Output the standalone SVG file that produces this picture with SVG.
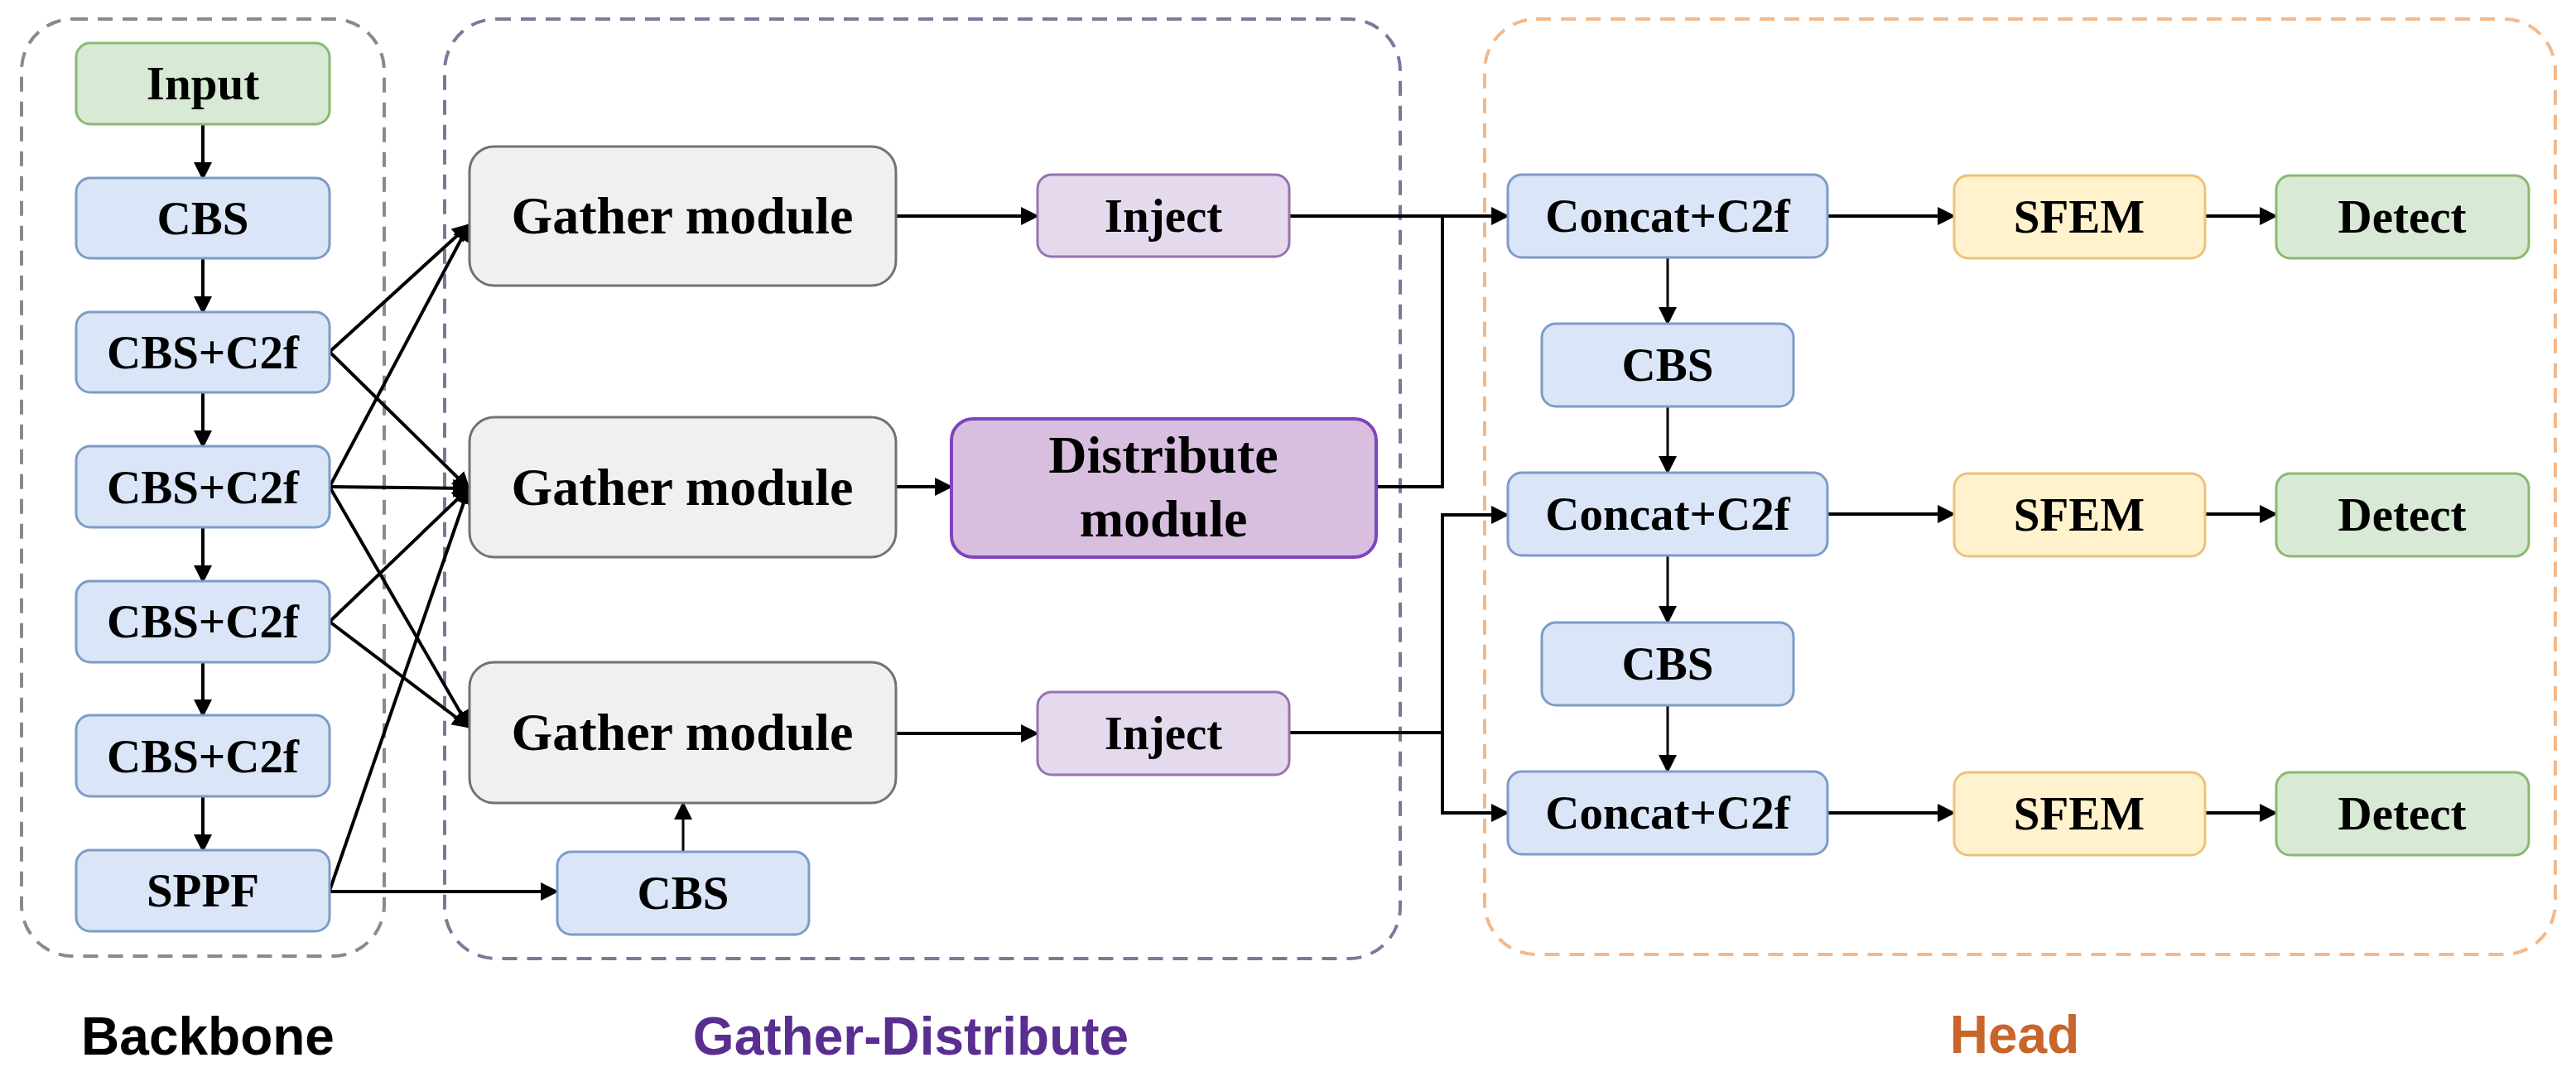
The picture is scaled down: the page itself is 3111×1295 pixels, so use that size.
<svg xmlns="http://www.w3.org/2000/svg" width="3111" height="1295" viewBox="0 0 3111 1295">
<defs>
<marker id="arr" viewBox="0 0 10 10" refX="8.6" refY="5" markerWidth="22" markerHeight="22" markerUnits="userSpaceOnUse" orient="auto"><path d="M0,0 L10,5 L0,10 z" fill="#000"/></marker>
<style>
.grp{fill:none;stroke-width:4;stroke-dasharray:18 12}
.bb{stroke:#8a8a8a}
.gd{stroke:#7d7898}
.hd{stroke:#f4b88a}
.cbs{fill:#dae6f7;stroke:#7c9cc8;stroke-width:3}
.inp{fill:#d8e9d5;stroke:#8bb872;stroke-width:3}
.gat{fill:#f0f0ee;stroke:#727272;stroke-width:3}
.inj{fill:#e5d9ee;stroke:#9673b0;stroke-width:3}
.dis{fill:#d8bfdf;stroke:#8043bf;stroke-width:4}
.sfe{fill:#fff2cc;stroke:#ebc27a;stroke-width:3}
.det{fill:#d8e9d5;stroke:#8bb872;stroke-width:3}
.t{font-family:"Liberation Serif","Times New Roman",serif;font-weight:bold;font-size:57px;text-anchor:middle;fill:#000}
.tl{font-family:"Liberation Serif","Times New Roman",serif;font-weight:bold;font-size:64px;text-anchor:middle;fill:#000}
.lab{font-family:"Liberation Sans",Arial,sans-serif;font-weight:bold;font-size:64px;text-anchor:middle}
.c{fill:none;stroke:#000;stroke-width:4;marker-end:url(#arr)}
.cn{fill:none;stroke:#000;stroke-width:4}
.cv{fill:none;stroke:#000;stroke-width:3;marker-end:url(#arr)}
</style>
</defs>
<g id="groups">
<rect class="grp bb" x="26" y="23" width="438" height="1132" rx="62"/>
<rect class="grp gd" x="537" y="23" width="1154" height="1135" rx="62"/>
<rect class="grp hd" x="1793" y="23" width="1293" height="1130" rx="62"/>
<text class="lab" x="251" y="1274" fill="#000">Backbone</text>
<text class="lab" x="1100" y="1274" fill="#5a2d91">Gather-Distribute</text>
<text class="lab" x="2433" y="1272" fill="#c8652a">Head</text>
</g>
<g id="connectors">
<line class="c" x1="245" y1="150" x2="245" y2="215"/>
<line class="c" x1="245" y1="312" x2="245" y2="377"/>
<line class="c" x1="245" y1="474" x2="245" y2="539"/>
<line class="c" x1="245" y1="637" x2="245" y2="702"/>
<line class="c" x1="245" y1="800" x2="245" y2="864"/>
<line class="c" x1="245" y1="962" x2="245" y2="1027"/>
<line class="c" x1="398" y1="425" x2="566" y2="272"/>
<line class="c" x1="398" y1="425" x2="566" y2="590"/>
<line class="c" x1="398" y1="588" x2="566" y2="272"/>
<line class="c" x1="398" y1="588" x2="566" y2="590"/>
<line class="c" x1="398" y1="588" x2="566" y2="878"/>
<line class="c" x1="398" y1="751" x2="566" y2="590"/>
<line class="c" x1="398" y1="751" x2="566" y2="878"/>
<line class="c" x1="398" y1="1076" x2="566" y2="590"/>
<line class="c" x1="398" y1="1077" x2="672" y2="1077"/>
<line class="cv" x1="825" y1="1029" x2="825" y2="971"/>
<line class="c" x1="1082" y1="261" x2="1252" y2="261"/>
<line class="c" x1="1082" y1="588" x2="1148" y2="588"/>
<line class="c" x1="1082" y1="886" x2="1252" y2="886"/>
<line class="c" x1="1557" y1="261" x2="1820" y2="261"/>
<path class="cn" d="M1662,588 H1742 V261"/>
<path class="c" d="M1557,885 H1742 V622 H1820"/>
<path class="c" d="M1742,885 V982 H1820"/>
<line class="c" x1="2207" y1="261" x2="2359" y2="261"/>
<line class="c" x1="2207" y1="621" x2="2359" y2="621"/>
<line class="c" x1="2207" y1="982" x2="2359" y2="982"/>
<line class="c" x1="2663" y1="261" x2="2748" y2="261"/>
<line class="c" x1="2663" y1="621" x2="2748" y2="621"/>
<line class="c" x1="2663" y1="982" x2="2748" y2="982"/>
<line class="cv" x1="2014" y1="311" x2="2014" y2="390"/>
<line class="cv" x1="2014" y1="491" x2="2014" y2="570"/>
<line class="cv" x1="2014" y1="671" x2="2014" y2="751"/>
<line class="cv" x1="2014" y1="852" x2="2014" y2="931"/>
</g>
<g id="input"><rect class="inp" x="92" y="52" width="306" height="98" rx="17"/><text class="t" x="245" y="120">Input</text></g>
<g id="bb-cbs"><rect class="cbs" x="92" y="215" width="306" height="97" rx="17"/><text class="t" x="245" y="283">CBS</text></g>
<g id="bb-c2f-1"><rect class="cbs" x="92" y="377" width="306" height="97" rx="17"/><text class="t" x="245" y="445">CBS+C2f</text></g>
<g id="bb-c2f-2"><rect class="cbs" x="92" y="539" width="306" height="98" rx="17"/><text class="t" x="245" y="608">CBS+C2f</text></g>
<g id="bb-c2f-3"><rect class="cbs" x="92" y="702" width="306" height="98" rx="17"/><text class="t" x="245" y="770">CBS+C2f</text></g>
<g id="bb-c2f-4"><rect class="cbs" x="92" y="864" width="306" height="98" rx="17"/><text class="t" x="245" y="933">CBS+C2f</text></g>
<g id="sppf"><rect class="cbs" x="92" y="1027" width="306" height="98" rx="17"/><text class="t" x="245" y="1095">SPPF</text></g>
<g id="gather-1"><rect class="gat" x="567" y="177" width="515" height="168" rx="30"/><text class="tl" x="824" y="282">Gather module</text></g>
<g id="gather-2"><rect class="gat" x="567" y="504" width="515" height="169" rx="30"/><text class="tl" x="824" y="610">Gather module</text></g>
<g id="gather-3"><rect class="gat" x="567" y="800" width="515" height="170" rx="30"/><text class="tl" x="824" y="906">Gather module</text></g>
<g id="gd-cbs"><rect class="cbs" x="673" y="1029" width="304" height="100" rx="17"/><text class="t" x="825" y="1098">CBS</text></g>
<g id="inject-1"><rect class="inj" x="1253" y="211" width="304" height="99" rx="17"/><text class="t" x="1405" y="280">Inject</text></g>
<g id="distribute"><rect class="dis" x="1149" y="506" width="513" height="167" rx="26"/><text class="tl" x="1405" y="571">Distribute</text><text class="tl" x="1405" y="648">module</text></g>
<g id="inject-2"><rect class="inj" x="1253" y="836" width="304" height="100" rx="17"/><text class="t" x="1405" y="905">Inject</text></g>
<g id="concat-1"><rect class="cbs" x="1821" y="211" width="386" height="100" rx="17"/><text class="t" x="2014" y="280">Concat+C2f</text></g>
<g id="head-cbs-1"><rect class="cbs" x="1862" y="391" width="304" height="100" rx="17"/><text class="t" x="2014" y="460">CBS</text></g>
<g id="concat-2"><rect class="cbs" x="1821" y="571" width="386" height="100" rx="17"/><text class="t" x="2014" y="640">Concat+C2f</text></g>
<g id="head-cbs-2"><rect class="cbs" x="1862" y="752" width="304" height="100" rx="17"/><text class="t" x="2014" y="821">CBS</text></g>
<g id="concat-3"><rect class="cbs" x="1821" y="932" width="386" height="100" rx="17"/><text class="t" x="2014" y="1001">Concat+C2f</text></g>
<g id="sfem-1"><rect class="sfe" x="2360" y="212" width="303" height="100" rx="17"/><text class="t" x="2511" y="281">SFEM</text></g>
<g id="sfem-2"><rect class="sfe" x="2360" y="572" width="303" height="100" rx="17"/><text class="t" x="2511" y="641">SFEM</text></g>
<g id="sfem-3"><rect class="sfe" x="2360" y="933" width="303" height="100" rx="17"/><text class="t" x="2511" y="1002">SFEM</text></g>
<g id="detect-1"><rect class="det" x="2749" y="212" width="305" height="100" rx="17"/><text class="t" x="2901" y="281">Detect</text></g>
<g id="detect-2"><rect class="det" x="2749" y="572" width="305" height="100" rx="17"/><text class="t" x="2901" y="641">Detect</text></g>
<g id="detect-3"><rect class="det" x="2749" y="933" width="305" height="100" rx="17"/><text class="t" x="2901" y="1002">Detect</text></g>
</svg>
